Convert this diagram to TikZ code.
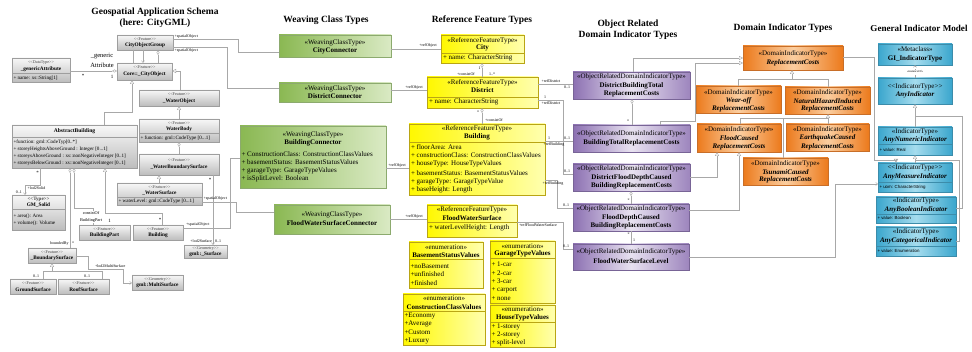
\documentclass[tikz,border=0pt]{standalone}
\usepackage{fontspec}
\setmainfont{Liberation Serif}
\newfontfamily\sansf{Liberation Sans}
\usetikzlibrary{arrows.meta,fit}
\definecolor{grn1}{RGB}{138,184,82}
\definecolor{grn2}{RGB}{218,234,196}
\definecolor{grnd}{RGB}{140,170,110}
\definecolor{ylw1}{RGB}{255,248,0}
\definecolor{ylw2}{RGB}{255,255,175}
\definecolor{ylwd}{RGB}{185,165,20}
\definecolor{prp1}{RGB}{140,112,178}
\definecolor{prp2}{RGB}{232,226,240}
\definecolor{prpd}{RGB}{120,100,150}
\definecolor{org1}{RGB}{236,122,28}
\definecolor{org2}{RGB}{251,206,160}
\definecolor{orgd}{RGB}{200,110,40}
\definecolor{cyn1}{RGB}{58,166,205}
\definecolor{cyn2}{RGB}{165,220,238}
\definecolor{cynd}{RGB}{60,140,170}
\definecolor{lnc}{RGB}{168,168,168}
\newcommand{\fs}[1]{\fontsize{#1}{#1}\selectfont}
\newcommand{\dlt}{<\kern0pt<}
\newcommand{\dgt}{>\kern0pt>}
\begin{document}
\begin{tikzpicture}[x=1pt,y=-1pt,
  every node/.style={inner sep=0pt,outer sep=0pt},
  gbox/.style={fit={#1},draw=black!38,line width=0.4pt,top color=black!3,bottom color=black!26},
  wbox/.style={fit={#1},draw=grnd,line width=0.4pt,left color=grn1,right color=grn2},
  ybox/.style={fit={#1},draw=ylwd,line width=0.5pt,left color=ylw1,right color=ylw2},
  pbox/.style={fit={#1},draw=prpd,line width=0.4pt,left color=prp1,right color=prp1!85!white,middle color=prp2},
  obox/.style={fit={#1},draw=orgd,line width=0.4pt,left color=org1,right color=org1,middle color=org2},
  cbox/.style={fit={#1},draw=cynd,line width=0.4pt,left color=cyn1,right color=cyn1,middle color=cyn2},
  st/.style={font=\fs{4.2},text=black!75},
  gn/.style={font=\fs{5.3}\bfseries},
  ga/.style={font=\fs{5.1},anchor=west},
  bt/.style={font=\fs{7}},
  bn/.style={font=\fs{7}\bfseries},
  bi/.style={font=\fs{7}\bfseries\itshape},
  ba/.style={font=\fs{7},anchor=west},
  ca/.style={font=\sansf\fs{4.4},anchor=west},
  lb/.style={font=\fs{4}},
  ttl/.style={font=\fontsize{9.5}{11}\selectfont\bfseries,align=center},
  cn/.style={draw=lnc,line width=0.45pt},
  gen/.style={cn,-{Triangle[open,length=4pt,width=4pt]}},
  agg/.style={cn,{Diamond[open,length=5pt,width=3pt]}-},
  nav/.style={cn,-{Straight Barb[length=2pt,width=3pt]}},
  dv/.style={draw=#1,line width=0.4pt}]
\useasboundingbox (0,0) rectangle (972,352);
\path[fill=white] (0,0) rectangle (972,352);

% ---------- titles
\node[ttl] (t1) at (155,17.5) {Geospatial Application Schema\\(here: CityGML)};
\node[ttl] (t2) at (326,20) {Weaving Class Types};
\node[ttl] (t3) at (482,20) {Reference Feature Types};
\node[ttl] (t4) at (628,29.5) {Object Related\\Domain Indicator Types};
\node[ttl] (t5) at (783,28.5) {Domain Indicator Types};
\node[ttl,font=\fontsize{9.1}{11}\selectfont\bfseries] (t6) at (919,28) {General Indicator Model};

% ---------- CityGML (gray)
\node[gbox={(117,35) (173,50)}] (cog) {};
\node[st] (cog-s) at (145,39.3) {\dlt Feature\dgt};
\node[gn] (cog-n) at (145,45.3) {CityObjectGroup};

\node[gbox={(117,63) (172,80)}] (core) {};
\node[st] (core-s) at (144.5,67.5) {\dlt Feature\dgt};
\node[gn] (core-n) at (144.5,74.3) {Core::\_CityObject};

\node[gbox={(12,58) (70,82)}] (gen) {};
\node[st] (gen-s) at (41,62.2) {\dlt DataType\dgt};
\node[gn] (gen-n) at (41,68.8) {\_genericAttribute};
\draw[dv=black!38] (gen.west |- 0,73.5) -- (gen.east |- 0,73.5);
\node[ga] (gen-a) at (13.5,77.8) {+ name: xs::String[1]};

\node[gbox={(139,90) (219,106)}] (wobj) {};
\node[st] (wobj-s) at (179,94.5) {\dlt Feature\dgt};
\node[gn] (wobj-n) at (179,101) {\_WaterObject};

\node[gbox={(139,119) (219,142)}] (wbody) {};
\node[st] (wbody-s) at (179,123) {\dlt Feature\dgt};
\node[gn] (wbody-n) at (179,129) {WaterBody};
\draw[dv=black!38] (wbody.west |- 0,133.5) -- (wbody.east |- 0,133.5);
\node[ga] (wbody-a) at (140.5,137.8) {+ function: gml::CodeType [0...1]};

\node[gbox={(139,154) (219,175)}] (wbs) {};
\node[st] (wbs-s) at (179,160.5) {\dlt Feature\dgt};
\node[gn] (wbs-n) at (179,167) {\_WaterBoundarySurface};

\node[gbox={(117,183) (202,205)}] (wsurf) {};
\node[st] (wsurf-s) at (159.5,187.5) {\dlt Feature\dgt};
\node[gn] (wsurf-n) at (159.5,193) {\_WaterSurface};
\draw[dv=black!38] (wsurf.west |- 0,197) -- (wsurf.east |- 0,197);
\node[ga] (wsurf-a) at (118.5,201) {+ waterLevel: gml::CodeType [0...1]};

\node[gbox={(12,125) (137,168)}] (ab) {};
\node[gn,font=\fs{5.6}\bfseries] (ab-n) at (74.5,131.3) {AbstractBuilding};
\draw[dv=black!38] (ab.west |- 0,137.5) -- (ab.east |- 0,137.5);
\node[ga] (ab-a1) at (13.5,142) {+function: gml::CodeTyp[0..*]};
\node[ga] (ab-a2) at (13.5,149) {+ storeyHeightsAboveGround : Integer [0...1]};
\node[ga] (ab-a3) at (13.5,156) {+ storeysAboveGround : xs::nonNegativeInteger [0..1]};
\node[ga] (ab-a4) at (13.5,163) {+ storeysBelowGround : xs::nonNegativeInteger [0..1]};

\node[gbox={(12,195) (65,230)}] (gms) {};
\node[st,font=\fs{5}\bfseries] (gms-s) at (38.5,199.5) {\dlt Type\dgt};
\node[gn] (gms-n) at (38.5,205.3) {GM\_Solid};
\draw[dv=black!38] (gms.west |- 0,209.5) -- (gms.east |- 0,209.5);
\node[ga] (gms-a1) at (13.5,216.5) {+ area(): Area};
\node[ga] (gms-a2) at (13.5,223.5) {+ volume(): Volume};

\node[gbox={(79,225) (130,240)}] (bpart) {};
\node[st] (bpart-s) at (104.5,229.3) {\dlt Feature\dgt};
\node[gn] (bpart-n) at (104.5,235.5) {BuildingPart};

\node[gbox={(133,225) (183,240)}] (bldg) {};
\node[st] (bldg-s) at (158,229.3) {\dlt Feature\dgt};
\node[gn] (bldg-n) at (158,235.5) {Building};

\node[gbox={(28,248) (76,263)}] (bsurf) {};
\node[st] (bsurf-s) at (52,252.3) {\dlt Feature\dgt};
\node[gn] (bsurf-n) at (52,258.5) {\_BoundarySurface};

\node[gbox={(10,279) (56,294)}] (gsurf) {};
\node[st] (gsurf-s) at (33,283.3) {\dlt Feature\dgt};
\node[gn] (gsurf-n) at (33,289.5) {GroundSurface};

\node[gbox={(58,279) (109,294)}] (rsurf) {};
\node[st] (rsurf-s) at (83.5,283.3) {\dlt Feature\dgt};
\node[gn] (rsurf-n) at (83.5,289.5) {RoofSurface};

\node[gbox={(132,275) (183,290)}] (msurf) {};
\node[st] (msurf-s) at (157.5,279.3) {\dlt Geometry\dgt};
\node[gn] (msurf-n) at (157.5,285.5) {gml::MultiSurface};

\node[gbox={(184,245) (227,258)}] (gsur) {};
\node[st] (gsur-s) at (205.5,248.5) {\dlt Geometry\dgt};
\node[gn] (gsur-n) at (205.5,254.3) {gml::\_Surface};

% ---------- weaving classes (green)
\node[wbox={(279,35) (391,57)}] (cc) {};
\node[bt] (cc-s) at (335,42.5) {«WeavingClassType»};
\node[bn] (cc-n) at (335,51) {CityConnector};

\node[wbox={(279,83) (391,102)}] (dc) {};
\node[bt] (dc-s) at (335,88.5) {«WeavingClassType»};
\node[bn] (dc-n) at (335,96.5) {DistrictConnector};

\node[wbox={(240,126) (386,188)}] (bc) {};
\node[bt] (bc-s) at (313,135) {«WeavingClassType»};
\node[bn] (bc-n) at (313,142.5) {BuildingConnector};
\node[ba] (bc-a1) at (241.5,154) {+ ConstructionClass: ConstructionClassValues};
\node[ba] (bc-a2) at (241.5,162.6) {+ basementStatus: BasementStatusValues};
\node[ba] (bc-a3) at (241.5,171) {+ garageType: GarageTypeValues};
\node[ba] (bc-a4) at (241.5,179.3) {+ isSplitLevel: Boolean};

\node[wbox={(274,205) (390,234)}] (fc) {};
\node[bt] (fc-s) at (332,214.8) {«WeavingClassType»};
\node[bn] (fc-n) at (332,223.3) {FloodWaterSurfaceConnector};

% ---------- reference feature types (yellow)
\node[ybox={(441,35) (524,63)}] (city) {};
\node[bt] (city-s) at (482.5,40.3) {«ReferenceFeatureType»};
\node[bn] (city-n) at (482.5,48) {City};
\draw[dv=ylwd] (city.west |- 0,53) -- (city.east |- 0,53);
\node[ba] (city-a) at (443,57.8) {+ name: CharacterString};

\node[ybox={(427,77) (538,108)}] (dist) {};
\node[bt] (dist-s) at (482.5,82.3) {«ReferenceFeatureType»};
\node[bn] (dist-n) at (482.5,90.3) {District};
\draw[dv=ylwd] (dist.west |- 0,96.8) -- (dist.east |- 0,96.8);
\node[ba] (dist-a) at (429,102) {+ name: CharacterString};

\node[ybox={(409,124) (545,195)}] (rb) {};
\node[bt] (rb-s) at (477,128.5) {«ReferenceFeatureType»};
\node[bn] (rb-n) at (477,137) {Building};
\draw[dv=ylwd] (rb.west |- 0,141.8) -- (rb.east |- 0,141.8);
\node[ba] (rb-a1) at (411,147) {+ floorArea: Area};
\node[ba] (rb-a2) at (411,155.6) {+ constructionClass: ConstructionClassValues};
\node[ba] (rb-a3) at (411,164.2) {+ houseType: HouseTypeValues};
\node[ba] (rb-a4) at (411,172.8) {+ basementStatus: BasementStatusValues};
\node[ba] (rb-a5) at (411,181.4) {+ garageType: GarageTypeValue};
\node[ba] (rb-a6) at (411,189.8) {+ baseHeight: Length};

\node[ybox={(427,205) (517,237)}] (fws) {};
\node[bt] (fws-s) at (472,209.5) {«ReferenceFeatureType»};
\node[bn] (fws-n) at (472,218) {FloodWaterSurface};
\draw[dv=ylwd] (fws.west |- 0,222.5) -- (fws.east |- 0,222.5);
\node[ba] (fws-a) at (429,228.3) {+ waterLevelHeight: Length};

\node[ybox={(409,242) (483,288)}] (bsv) {};
\node[bt] (bsv-s) at (446,247) {«enumeration»};
\node[bn] (bsv-n) at (446,255) {BasementStatusValues};
\draw[dv=ylwd] (bsv.west |- 0,259.5) -- (bsv.east |- 0,259.5);
\node[ba] (bsv-a1) at (410.5,266) {+noBasement};
\node[ba] (bsv-a2) at (410.5,274.3) {+unfinished};
\node[ba] (bsv-a3) at (410.5,282.6) {+finished};

\node[ybox={(490,241) (555,303)}] (gtv) {};
\node[bt] (gtv-s) at (522.5,246) {«enumeration»};
\node[bn] (gtv-n) at (522.5,254.3) {GarageTypeValues};
\draw[dv=ylwd] (gtv.west |- 0,258.7) -- (gtv.east |- 0,258.7);
\node[ba] (gtv-a1) at (491.5,264.3) {+ 1-car};
\node[ba] (gtv-a2) at (491.5,272.8) {+ 2-car};
\node[ba] (gtv-a3) at (491.5,281.3) {+ 3-car};
\node[ba] (gtv-a4) at (491.5,289.8) {+ carport};
\node[ba] (gtv-a5) at (491.5,298.3) {+ none};

\node[ybox={(403,294) (485,345)}] (ccv) {};
\node[bt] (ccv-s) at (444,298.5) {«enumeration»};
\node[bn] (ccv-n) at (444,306.7) {ConstructionClassValues};
\draw[dv=ylwd] (ccv.west |- 0,311) -- (ccv.east |- 0,311);
\node[ba] (ccv-a1) at (404.5,315.6) {+Economy};
\node[ba] (ccv-a2) at (404.5,324) {+Average};
\node[ba] (ccv-a3) at (404.5,332.4) {+Custom};
\node[ba] (ccv-a4) at (404.5,340.8) {+Luxury};

\node[ybox={(490,305) (555,347)}] (htv) {};
\node[bt] (htv-s) at (522.5,309.5) {«enumeration»};
\node[bn] (htv-n) at (522.5,318) {HouseTypeValues};
\draw[dv=ylwd] (htv.west |- 0,322.3) -- (htv.east |- 0,322.3);
\node[ba] (htv-a1) at (491.5,327) {+ 1-storey};
\node[ba] (htv-a2) at (491.5,335.2) {+ 2-storey};
\node[ba] (htv-a3) at (491.5,343.3) {+ split-level};

% ---------- object related domain indicator types (purple)
\node[pbox={(573,72) (690,99)}] (p1) {};
\node[bt] (p1-s) at (631.5,77) {«ObjectRelatedDomainIndicatorType»};
\node[bn] (p1-n1) at (631.5,85.5) {DistrictBuildingTotal};
\node[bn] (p1-n2) at (631.5,94) {ReplacementCosts};

\node[pbox={(573,125) (690,152)}] (p2) {};
\node[bt] (p2-s) at (631.5,134) {«ObjectRelatedDomainIndicatorType»};
\node[bn] (p2-n) at (631.5,142.8) {BuildingTotalReplacementCosts};

\node[pbox={(573,164) (690,191)}] (p3) {};
\node[bt] (p3-s) at (631.5,169) {«ObjectRelatedDomainIndicatorType»};
\node[bn] (p3-n1) at (631.5,177.5) {DistrictFloodDepthCaused};
\node[bn] (p3-n2) at (631.5,186) {BuildingReplacementCosts};

\node[pbox={(573,204) (689,231)}] (p4) {};
\node[bt] (p4-s) at (631,209) {«ObjectRelatedDomainIndicatorType»};
\node[bn] (p4-n1) at (631,217.5) {FloodDepthCaused};
\node[bn] (p4-n2) at (631,226) {BuildingReplacementCosts};

\node[pbox={(573,244) (689,270)}] (p5) {};
\node[bt] (p5-s) at (631,252) {«ObjectRelatedDomainIndicatorType»};
\node[bn] (p5-n) at (631,261) {FloodWaterSurfaceLevel};

% ---------- domain indicator types (orange)
\node[obox={(743,46) (843,70)}] (o1) {};
\node[bt] (o1-s) at (793,54) {«DomainIndicatorType»};
\node[bi] (o1-n) at (793,62.5) {ReplacementCosts};

\node[obox={(696,86) (781,113)}] (o2) {};
\node[bt] (o2-s) at (738.5,92.5) {«DomainIndicatorType»};
\node[bi] (o2-n1) at (738.5,101) {Wear-off};
\node[bi] (o2-n2) at (738.5,109.3) {ReplacementCosts};

\node[obox={(785,87) (870,114)}] (o3) {};
\node[bt] (o3-s) at (827.5,92.5) {«DomainIndicatorType»};
\node[bi] (o3-n1) at (827.5,101) {NaturalHazardInduced};
\node[bi] (o3-n2) at (827.5,109.3) {ReplacementCosts};

\node[obox={(697,124) (781,152)}] (o4) {};
\node[bt] (o4-s) at (739,129.5) {«DomainIndicatorType»};
\node[bi] (o4-n1) at (739,138) {FloodCaused};
\node[bi] (o4-n2) at (739,146.5) {ReplacementCosts};

\node[obox={(786,124) (869,151)}] (o5) {};
\node[bt] (o5-s) at (827.5,129.5) {«DomainIndicatorType»};
\node[bi] (o5-n1) at (827.5,138) {EarthquakeCaused};
\node[bi] (o5-n2) at (827.5,146.5) {ReplacementCosts};

\node[obox={(743,158) (828,185)}] (o6) {};
\node[bt] (o6-s) at (785.5,163.5) {«DomainIndicatorType»};
\node[bi] (o6-n1) at (785.5,172) {TsunamiCaused};
\node[bi] (o6-n2) at (785.5,180.3) {ReplacementCosts};

% ---------- general indicator model (cyan)
\node[cbox={(878,44) (952,65)}] (g1) {};
\node[bt] (g1-s) at (915,49) {«Metaclass»};
\node[bn] (g1-n) at (915,58.5) {GI\_IndicatorType};

\node[cbox={(878,78) (952,104)}] (g2) {};
\node[bt] (g2-s) at (915,86.5) {\dlt IndicatorType\dgt};
\node[bi] (g2-n) at (915,95) {AnyIndicator};

\node[cbox={(878,127) (952,155)}] (g3) {};
\node[bt] (g3-s) at (915,131.5) {«IndicatorType»};
\node[bi] (g3-n) at (915,140) {AnyNumericIndicator};
\draw[dv=cynd] (g3.west |- 0,144.5) -- (g3.east |- 0,144.5);
\node[ca] (g3-a) at (879.5,149.5) {+ value: Real};

\node[cbox={(878,163) (952,192)}] (g4) {};
\node[bt] (g4-s) at (915,168) {\dlt IndicatorType\dgt};
\node[bi] (g4-n) at (915,176.5) {AnyMeasureIndicator};
\draw[dv=cynd] (g4.west |- 0,182.5) -- (g4.east |- 0,182.5);
\node[ca] (g4-a) at (879.5,187) {+ uom: CharacterString};

\node[cbox={(876,197) (956,223)}] (g5) {};
\node[bt] (g5-s) at (916,200.5) {«IndicatorType»};
\node[bi] (g5-n) at (916,209.5) {AnyBooleanIndicator};
\draw[dv=cynd] (g5.west |- 0,214) -- (g5.east |- 0,214);
\node[ca] (g5-a) at (877.5,218.3) {+ value: Boolean};

\node[cbox={(876,227) (956,256)}] (g6) {};
\node[bt] (g6-s) at (916,231.5) {«IndicatorType»};
\node[bi] (g6-n) at (916,241) {AnyCategoricalIndicator};
\draw[dv=cynd] (g6.west |- 0,246.5) -- (g6.east |- 0,246.5);
\node[ca] (g6-a) at (877.5,251) {+ value: Enumeration};

% ================= connectors
% CityGML
\draw[cn] (cog.south -| 133,0) -- (core.north -| 133,0);
\draw[nav] (cog.south -| 143,0) -- (core.north -| 143,0);
\draw[agg] (cog.south -| 158,0) -- (core.north -| 158,0);
\draw[agg] (core.west |- 0,71) -- (gen.east |- 0,71);
\node[font=\fontsize{6.5}{10}\selectfont,align=center] (gal) at (102,60) {\_generic\\Attribute};
\node[font=\fs{5}] (gal1) at (83,75.5) {*};
\node[font=\fs{5}] (gal2) at (112,77) {1};
\draw[cn] (cog.east |- 0,39.5) -- (238,39.5) -- (238,52) -- (cc.west |- 0,52);
\node[lb,anchor=west] (so1) at (174.5,36.8) {+spatialObject};
\draw[cn] (cog.east |- 0,47.5) -- (227,47.5) -- (227,88) -- (dc.west |- 0,88);
\node[lb,anchor=west] (so2) at (174.5,50.8) {+spatialObject};
\draw[gen] (wobj.north -| 180,0) -- (180,71) -- (core.east |- 0,71);
\draw[gen] (ab.north -| 104,0) -- (104,112) -- (132,112) -- (core.south -| 132,0);
\draw[gen] (wbody.north) -- (wobj.south);
\draw[agg] (wbody.south) -- (wbs.north);
\draw[gen] (wsurf.north -| 159,0) -- (wbs.south -| 159,0);
\draw[nav] (wbs.south -| 213,0) -- (gsur.north -| 213,0);
\node[font=\fs{5}] (wbs-st) at (210,180) {*};
\node[lb,anchor=east] (l2s) at (212,241.5) {+lod2Surface};
\node[lb,anchor=west] (l2s-m) at (215,241.5) {0..1};
\draw[cn] (wsurf.east |- 0,202) -- (236,202) -- (236,212) -- (fc.west |- 0,212);
\node[lb,anchor=west] (so3) at (203.5,199) {+spatialObject};
\draw[cn] (bldg.east |- 0,228) -- (230,228) -- (230,158) -- (bc.west |- 0,158);
\node[lb,anchor=west] (so4) at (186,224.5) {+spatialObject};
\draw[nav] (ab.south -| 40,0) -- (40,185) -- (25,185) -- (gms.north -| 25,0);
\node[font=\fs{5}] (ab-st) at (37.5,173) {*};
\node[lb,anchor=west] (l2so) at (27.5,188) {+lod2Solid};
\node[lb] (gms-m) at (19,192.5) {0..1};
\draw[agg] (ab.south -| 70,0) -- (bsurf.north -| 70,0);
\node[lb,anchor=east] (bby) at (68.5,243.5) {boundedBy};
\node[lb] (bby-s) at (73,243.5) {*};
\draw[agg] (ab.south -| 74,0) -- (74,208) -- (93,208) -- (bpart.north -| 93,0);
\node[font=\fontsize{4.3}{7.5}\selectfont,align=center,fill=white] (cob) at (91,217) {consistOf\\BuildingPart};
\node[font=\fs{5}] (cob-1) at (109.5,221) {1};
\draw[gen] (bldg.north -| 162,0) -- (162,213) -- (105,213) -- (ab.south -| 105,0);
\node[font=\fs{5}] (bld-st) at (160,220) {*};
\draw[gen] (gsurf.north -| 43,0) -- (43,271) -- (52,271) -- (bsurf.south -| 52,0);
\draw[cn] (rsurf.north -| 102,0) -- (102,271) -- (52,271);
\node[lb] (gs-m) at (36,276) {0..1};
\node[lb] (rs-m) at (87,276) {0..1};
\draw[nav] (bsurf.east |- 0,256) -- (88,256) -- (88,269) -- (123,269) -- (123,283) -- (msurf.west |- 0,283);
\node[lb,anchor=west] (l2ms) at (95,266) {+lod2MultiSurface};

% weaving -> reference
\draw[cn] (cc.east |- 0,49) -- (city.west |- 0,49);
\node[lb] (ro1) at (428,45.5) {+refObject};
\draw[cn] (dc.east |- 0,90) -- (dist.west |- 0,90);
\node[lb] (ro2) at (414,87.3) {+refObject};
\draw[cn] (bc.east |- 0,168) -- (rb.west |- 0,168);
\node[lb] (ro3) at (397,165.3) {+refObject};
\draw[cn] (fc.east |- 0,219) -- (fws.west |- 0,219);
\node[lb] (ro4) at (414,216.3) {+refObject};
\draw[agg] (city.south -| 482,0) -- (dist.north -| 482,0);
\node[lb] (cd1) at (479.5,68) {1};
\node[lb] (cd2) at (466,74) {+consistOf};
\node[lb] (cd3) at (492,74) {1..*};
\draw[agg] (dist.south -| 482,0) -- (rb.north -| 482,0);
\node[lb] (db1) at (478,112) {*};
\node[lb] (db2) at (494,120) {+consistOf};

% reference -> purple
\draw[cn] (dist.east |- 0,84) -- (p1.west |- 0,84);
\node[lb] (rd1) at (551,81.5) {+refDistrict};
\node[lb] (rd1m) at (567,87.5) {0..1};
\draw[cn] (dist.east |- 0,100) -- (563,100) -- (563,174) -- (p3.west |- 0,174);
\node[lb] (rd2a) at (545,97) {1};
\node[lb] (rd2) at (551,103.5) {+refDistrict};
\node[lb] (rd2m) at (567,171) {0..1};
\draw[cn] (rb.east |- 0,141) -- (p2.west |- 0,141);
\node[lb] (rbd1a) at (549,138) {1};
\node[lb] (rbd1m) at (567,138) {0..1};
\node[lb] (rbd1) at (554,145) {+refBuilding};
\draw[cn] (rb.east |- 0,180) -- (557,180) -- (557,208) -- (p4.west |- 0,208);
\node[lb] (rbd2) at (553,183.5) {+refBuilding};
\node[lb] (rbd2m) at (566,205.5) {0..1};
\draw[cn] (fws.east |- 0,222) -- (563,222) -- (563,249) -- (p5.west |- 0,249);
\node[lb] (rfw) at (538,225.5) {+refFloodWaterSurface};
\node[lb] (rfwm) at (566,246.5) {0..1};

% purple internal
\draw[agg] (p1.south -| 632,0) -- (p2.north -| 632,0);
\node[lb] (p12) at (628,121) {*};
\draw[agg] (p3.south -| 631,0) -- (p4.north -| 631,0);
\node[lb] (p34) at (628.5,200) {*};
\draw[cn] (p4.south -| 631,0) -- (p5.north -| 631,0);
\node[lb] (p45a) at (628.5,234) {*};
\node[lb] (p45b) at (634,240) {1};

% purple -> orange
\draw[gen] (p1.north -| 633,0) -- (633,58) -- (o1.west |- 0,58);
\draw[gen] (p2.north -| 660,0) -- (660,121) -- (695,121) -- (695,63) -- (o1.west |- 0,63);
\draw[gen] (p3.east |- 0,177) -- (717,177) -- (o4.south -| 717,0);
\draw[gen] (p4.east |- 0,210) -- (739,210) -- (o4.south -| 739,0);
\draw[nav] (p5.east |- 0,257) -- (835,257) -- (835,184) -- (g4.west |- 0,184);

% orange internal
\draw[gen] (792,79) -- (o1.south -| 792,0);
\draw[cn] (o2.north -| 738,0) -- (738,79) -- (828,79) -- (o3.north -| 828,0);
\draw[gen] (828,118) -- (o3.south -| 828,0);
\draw[cn] (o4.north -| 740,0) -- (740,118) -- (828,118) -- (o5.north -| 828,0);
\draw[cn] (783,118) -- (o6.north -| 783,0);

% orange -> cyan
\draw[gen] (o1.east |- 0,57) -- (874,57) -- (874,160) -- (896,160) -- (g4.north -| 896,0);

% cyan internal
\draw[cn,dashed,-{Straight Barb[length=2pt,width=3pt]}] (g2.north) -- (g1.south);
\node[font=\fs{3},fill=white] (inst) at (915,71) {«instanceOf»};
\draw[gen] (g3.north) -- (g2.south);
\draw[gen] (g4.north -| 915,0) -- (g3.south -| 915,0);
\draw[cn] (g5.east |- 0,208) -- (962,208) -- (962,116) -- (915,116);
\draw[cn] (g6.east |- 0,241) -- (959,241) -- (959,160) -- (915,160);
\end{tikzpicture}
\end{document}
